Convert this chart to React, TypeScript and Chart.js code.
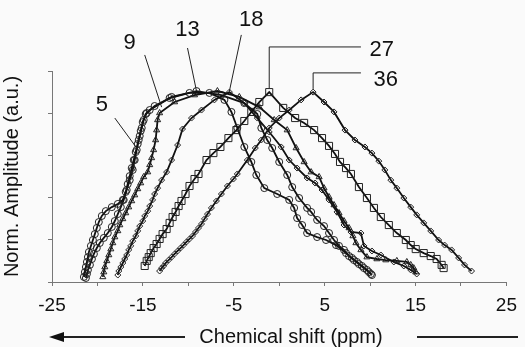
import React, { useEffect, useRef } from 'react';
import { Chart, registerables } from 'chart.js';

Chart.register(...registerables);

// x tick labels shown (ticks every 5 ppm, labels every 10)
const xTickLabels = [-25, -15, -5, 5, 15, 25];

// series: [chemical shift (ppm), normalised amplitude]
const s5: [number, number][] = [
  [-21.49, 0.024], [-21.38, 0.047], [-21.27, 0.071], [-21.16, 0.095], [-21.05, 0.118], [-20.94, 0.142],
  [-20.72, 0.171], [-20.5, 0.199], [-20.29, 0.227], [-20.07, 0.256], [-19.85, 0.284], [-19.52, 0.313],
  [-19.08, 0.336], [-18.42, 0.355], [-17.76, 0.37], [-17.21, 0.389], [-16.89, 0.427], [-16.67, 0.464],
  [-16.45, 0.502], [-16.23, 0.54], [-16.01, 0.578], [-15.79, 0.616], [-15.57, 0.654], [-15.35, 0.692],
  [-15.13, 0.73], [-14.91, 0.768], [-14.58, 0.801], [-13.71, 0.834], [-12.06, 0.872], [-9.87, 0.896],
  [-7.68, 0.896], [-6.03, 0.863], [-5.26, 0.806], [-4.61, 0.73], [-3.84, 0.64], [-3.07, 0.569],
  [-2.52, 0.507], [-1.64, 0.445], [-0.22, 0.417], [1.1, 0.389], [1.64, 0.351], [1.97, 0.303],
  [2.52, 0.27], [3.07, 0.232], [4.17, 0.213], [5.15, 0.199], [6.25, 0.175], [7.35, 0.137],
  [8.0, 0.114], [8.55, 0.095], [9.1, 0.076], [9.65, 0.057], [10.09, 0.038],
];
const s9: [number, number][] = [
  [-19.41, 0.024], [-19.3, 0.047], [-19.19, 0.071], [-18.97, 0.1], [-18.75, 0.128], [-18.53, 0.156],
  [-18.31, 0.185], [-18.09, 0.213], [-17.76, 0.242], [-17.54, 0.27], [-17.21, 0.299], [-16.89, 0.327],
  [-16.56, 0.355], [-16.23, 0.384], [-15.9, 0.412], [-15.57, 0.441], [-15.24, 0.469], [-14.91, 0.498],
  [-14.47, 0.521], [-14.25, 0.555], [-14.04, 0.588], [-13.82, 0.626], [-13.6, 0.673], [-13.49, 0.72],
  [-13.38, 0.768], [-13.16, 0.801], [-11.51, 0.853], [-9.32, 0.886], [-6.8, 0.905], [-4.39, 0.877],
  [-2.19, 0.829], [-0.55, 0.768], [0.88, 0.72], [1.86, 0.635], [2.74, 0.569], [3.51, 0.521],
  [4.39, 0.498], [4.93, 0.445], [5.48, 0.403], [6.03, 0.365], [6.58, 0.327], [7.13, 0.289],
  [7.68, 0.256], [8.11, 0.218], [8.44, 0.185], [8.99, 0.152], [9.65, 0.118], [10.75, 0.109],
  [11.73, 0.104], [12.94, 0.1], [14.04, 0.095], [14.47, 0.081], [14.8, 0.066], [15.02, 0.047],
];
const s13: [number, number][] = [
  [-21.27, 0.019], [-21.16, 0.038], [-21.05, 0.057], [-20.83, 0.081], [-20.61, 0.109], [-20.39, 0.133],
  [-20.07, 0.161], [-19.74, 0.185], [-19.3, 0.209], [-18.86, 0.232], [-18.42, 0.261], [-18.09, 0.289],
  [-17.76, 0.322], [-17.43, 0.355], [-17.11, 0.389], [-16.78, 0.436], [-16.45, 0.483], [-16.12, 0.531],
  [-15.9, 0.578], [-15.68, 0.626], [-15.46, 0.673], [-15.24, 0.716], [-15.02, 0.758], [-14.69, 0.796],
  [-14.25, 0.815], [-11.84, 0.877], [-9.1, 0.905], [-6.36, 0.886], [-3.84, 0.848], [-2.41, 0.796],
  [-1.97, 0.73], [-1.32, 0.673], [-0.77, 0.635], [0.0, 0.569], [0.88, 0.507], [1.43, 0.45],
  [2.19, 0.398], [3.07, 0.351], [3.51, 0.332], [4.17, 0.294], [4.93, 0.265], [5.48, 0.232],
  [6.03, 0.199], [6.58, 0.171], [7.13, 0.152], [7.68, 0.123], [8.22, 0.104], [8.77, 0.085],
  [9.32, 0.066], [9.87, 0.047], [10.2, 0.033],
];
const s18: [number, number][] = [
  [-17.76, 0.033], [-17.65, 0.052], [-17.43, 0.071], [-17.21, 0.09], [-17.0, 0.109], [-16.78, 0.128],
  [-16.56, 0.152], [-16.34, 0.171], [-16.12, 0.194], [-15.79, 0.218], [-15.57, 0.242], [-15.35, 0.265],
  [-15.02, 0.289], [-14.8, 0.313], [-14.47, 0.336], [-14.25, 0.36], [-13.93, 0.389], [-13.71, 0.417],
  [-13.38, 0.445], [-12.94, 0.483], [-12.39, 0.521], [-11.84, 0.578], [-11.18, 0.649], [-10.64, 0.725],
  [-9.65, 0.777], [-8.55, 0.815], [-7.13, 0.863], [-5.48, 0.9], [-3.84, 0.848], [-2.41, 0.777],
  [-1.1, 0.711], [0.22, 0.64], [1.1, 0.578], [1.97, 0.54], [3.07, 0.493], [3.95, 0.469],
  [4.71, 0.436], [5.48, 0.389], [6.36, 0.332], [7.13, 0.27], [7.89, 0.237], [8.99, 0.232],
  [9.32, 0.171], [10.2, 0.147], [11.18, 0.128], [12.61, 0.095], [13.71, 0.076], [14.47, 0.057],
  [15.13, 0.038],
];
const s27: [number, number][] = [
  [-14.8, 0.076], [-14.58, 0.1], [-14.36, 0.118], [-14.14, 0.137], [-13.82, 0.161], [-13.49, 0.18],
  [-13.16, 0.204], [-12.83, 0.227], [-12.39, 0.251], [-12.06, 0.28], [-11.73, 0.308], [-11.4, 0.332],
  [-11.07, 0.36], [-10.75, 0.384], [-10.31, 0.417], [-9.87, 0.455], [-9.32, 0.488], [-8.88, 0.512],
  [-8.0, 0.578], [-7.24, 0.611], [-6.47, 0.64], [-5.59, 0.682], [-4.71, 0.72], [-3.84, 0.763],
  [-3.07, 0.806], [-2.19, 0.853], [-1.1, 0.9], [0.44, 0.825], [1.75, 0.777], [2.74, 0.754],
  [3.84, 0.72], [4.71, 0.682], [5.48, 0.645], [6.14, 0.607], [6.69, 0.569], [7.35, 0.54],
  [7.89, 0.512], [8.77, 0.45], [9.65, 0.398], [10.42, 0.351], [11.18, 0.308], [12.06, 0.27],
  [12.94, 0.232], [13.93, 0.199], [14.47, 0.175], [15.02, 0.156], [15.9, 0.137], [16.67, 0.123],
  [17.32, 0.109], [17.87, 0.081], [18.09, 0.066],
];
const s36: [number, number][] = [
  [-13.16, 0.052], [-12.94, 0.066], [-12.72, 0.076], [-12.5, 0.09], [-12.17, 0.104], [-11.84, 0.118],
  [-11.51, 0.133], [-11.18, 0.147], [-10.86, 0.161], [-10.53, 0.175], [-10.2, 0.19], [-9.87, 0.204],
  [-9.54, 0.218], [-9.21, 0.237], [-8.88, 0.256], [-8.55, 0.275], [-8.22, 0.299], [-7.89, 0.322],
  [-7.46, 0.351], [-6.91, 0.384], [-6.36, 0.417], [-5.7, 0.455], [-5.04, 0.488], [-4.61, 0.512],
  [-3.51, 0.578], [-2.63, 0.635], [-1.97, 0.673], [-1.1, 0.73], [0.0, 0.777], [1.1, 0.815],
  [2.41, 0.863], [3.73, 0.9], [4.93, 0.853], [6.03, 0.806], [7.24, 0.72], [8.33, 0.673],
  [9.43, 0.64], [10.2, 0.611], [10.96, 0.573], [11.62, 0.531], [12.28, 0.483], [12.94, 0.445],
  [13.71, 0.398], [14.47, 0.355], [15.13, 0.318], [15.9, 0.28], [16.67, 0.242], [17.54, 0.199],
  [18.2, 0.175], [18.97, 0.152], [19.74, 0.114], [20.39, 0.081], [21.16, 0.052],
];

// curve labels (text, position in data units) and leader lines (data units)
const curveLabels = ['5', '9', '13', '18', '27', '36'];
const curveLabelPos: [number, number][] = [
  [-19.52, 0.839], [-16.45, 1.133], [-10.09, 1.194], [-3.07, 1.242], [11.29, 1.1], [11.73, 0.957],
];
const leaderPaths: [number, number][][] = [
  [[-18.09, 0.777], [-15.68, 0.635]],
  [[-14.8, 1.076], [-12.94, 0.829]],
  [[-10.09, 1.109], [-9.1, 0.905]],
  [[-4.17, 1.171], [-5.48, 0.905]],
  [[8.99, 1.114], [-1.1, 1.114], [-1.1, 0.919]],
  [[8.99, 0.991], [3.73, 0.991], [3.73, 0.915]],
];

const FONT = '"Liberation Sans", Arial, Helvetica, sans-serif';

export default function App() {
  const ref = useRef<HTMLCanvasElement | null>(null);

  useEffect(() => {
    document.body.style.margin = '0';
    document.body.style.background = '#fafafa';
    const canvas = ref.current;
    if (!canvas) return;

    const mk = (data: [number, number][], style: string, radius: number) => ({
      data: data.map(([x, y]) => ({ x, y })),
      showLine: true,
      borderColor: '#111',
      borderWidth: 1.8,
      pointStyle: style,
      pointRadius: radius,
      pointBorderColor: '#222',
      pointBorderWidth: 1,
      pointBackgroundColor: 'rgba(0,0,0,0)',
      tension: 0,
    });

    const decor = {
      id: 'decor',
      beforeDraw(chart: any) {
        const c = chart.ctx;
        c.save();
        c.fillStyle = '#fafafa';
        c.fillRect(0, 0, chart.width, chart.height);
        c.restore();
      },
      afterDraw(chart: any) {
        const c = chart.ctx;
        const xs = chart.scales.x;
        const ys = chart.scales.y;
        c.save();
        // leaders
        c.strokeStyle = '#222';
        c.lineWidth = 1;
        leaderPaths.forEach((path) => {
          c.beginPath();
          path.forEach(([x, y], i) => {
            const px = xs.getPixelForValue(x);
            const py = ys.getPixelForValue(y);
            if (i === 0) c.moveTo(px, py);
            else c.lineTo(px, py);
          });
          c.stroke();
        });
        // labels
        c.fillStyle = '#111';
        c.font = `22px ${FONT}`;
        c.textAlign = 'center';
        c.textBaseline = 'middle';
        curveLabels.forEach((t, i) => {
          const [x, y] = curveLabelPos[i];
          c.fillText(t, xs.getPixelForValue(x), ys.getPixelForValue(y));
        });
        // x title with arrows
        const ty = chart.height - 10;
        c.font = `20px ${FONT}`;
        c.fillText('Chemical shift (ppm)', 291, ty);
        c.lineWidth = 1.8;
        c.beginPath();
        c.moveTo(60, ty);
        c.lineTo(185, ty);
        c.moveTo(417, ty);
        c.lineTo(518, ty);
        c.stroke();
        c.beginPath();
        c.moveTo(49, ty);
        c.lineTo(64, ty - 5);
        c.lineTo(64, ty + 5);
        c.closePath();
        c.fill();
        c.restore();
      },
    };

    const chart = new Chart(canvas, {
      type: 'scatter',
      data: {
        datasets: [
          mk(s5, 'circle', 3.5),
          mk(s9, 'triangle', 3.5),
          mk(s13, 'circle', 3.5),
          mk(s18, 'rectRot', 3),
          mk(s27, 'rect', 5),
          mk(s36, 'rectRot', 3),
        ],
      },
      options: {
        responsive: false,
        animation: false,
        devicePixelRatio: 1,
        layout: { padding: { top: 71, right: 18, left: 0, bottom: 0 } },
        plugins: { legend: { display: false }, tooltip: { enabled: false } },
        scales: {
          x: {
            type: 'linear',
            min: -25,
            max: 25,
            afterFit: (s: any) => { s.height = 65; },
            border: { display: true, color: '#777', width: 1 },
            grid: { display: true, drawOnChartArea: false, drawTicks: true, tickLength: 4, color: '#777' },
            ticks: {
              stepSize: 5,
              autoSkip: false,
              maxRotation: 0,
              padding: 8,
              color: '#111',
              font: { family: FONT, size: 19 },
              callback: (v: any) => (xTickLabels.includes(Number(v)) ? String(v) : ''),
            },
          },
          y: {
            type: 'linear',
            min: 0,
            max: 1,
            afterFit: (s: any) => { s.width = 52; },
            border: { display: true, color: '#777', width: 1 },
            grid: { display: true, drawOnChartArea: false, drawTicks: true, tickLength: 4, color: '#777' },
            ticks: { stepSize: 0.2, display: false },
            title: {
              display: true,
              text: 'Norm. Amplitude (a.u.)',
              color: '#111',
              font: { family: FONT, size: 20 },
              padding: { top: 0, bottom: 0 },
            },
          },
        },
      },
      plugins: [decor],
    } as any);

    return () => chart.destroy();
  }, []);

  return (
    <div style={{ width: 525, height: 347 }}>
      <canvas ref={ref} width={525} height={347} style={{ display: 'block' }} />
    </div>
  );
}
